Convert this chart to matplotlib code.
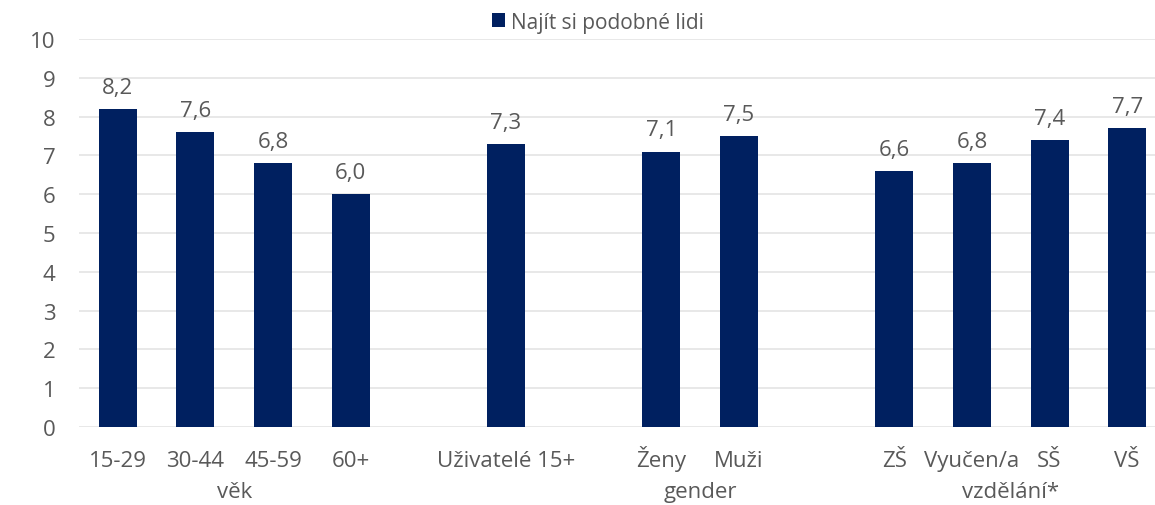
import matplotlib
matplotlib.use("Agg")
import matplotlib.pyplot as plt
import matplotlib.transforms as mtransforms

# groups of categories, separated by an empty slot on the axis
groups = ["věk", "", "gender", "vzdělání*"]
group_categories = [
    ["15-29", "30-44", "45-59", "60+"],
    ["Uživatelé 15+"],
    ["Ženy", "Muži"],
    ["ZŠ", "Vyučen/a", "SŠ", "VŠ"],
]
group_values = [
    [8.2, 7.6, 6.8, 6.0],
    [7.3],
    [7.1, 7.5],
    [6.6, 6.8, 7.4, 7.7],
]
series_name = "Najít si podobné lidi"
y_ticks = list(range(0, 11))

NAVY = "#002060"
GREY = "#595959"
GRID = "#e4e4e4"

plt.rcParams["font.family"] = ["Open Sans", "DejaVu Sans"]

fig = plt.figure(figsize=(11.55, 5.06), dpi=100)
# the reference is cropped on the right, so the axes run past the figure edge
ax = fig.add_axes([79 / 1155, 78 / 506, 1087 / 1155, 388 / 506])

positions, labels, values, centers = [], [], [], []
slot = 0
for cats, vals in zip(group_categories, group_values):
    start = slot
    for c, v in zip(cats, vals):
        positions.append(slot)
        labels.append(c)
        values.append(v)
        slot += 1
    centers.append((start + slot - 1) / 2)
    slot += 1  # gap between groups

bars = ax.bar(positions, values, width=0.49, color=NAVY, zorder=3)
ax.bar_label(bars, labels=[f"{v:.1f}".replace(".", ",") for v in values],
             padding=8, fontsize=16, color=GREY)

ax.set_xlim(-0.5, slot - 1.5)
ax.set_ylim(0, 10)
ax.set_yticks(y_ticks)
ax.set_xticks(positions)
ax.set_xticklabels(labels)
for lbl in ax.get_xticklabels():
    lbl.set_va("baseline")
ax.tick_params(axis="x", length=0, pad=28, labelsize=16, labelcolor=GREY)
ax.tick_params(axis="y", length=0, pad=17, labelsize=16, labelcolor=GREY)
ax.grid(axis="y", color=GRID, linewidth=1.2, zorder=0)
for side in ["top", "right", "left", "bottom"]:
    ax.spines[side].set_visible(False)

trans = mtransforms.blended_transform_factory(ax.transData, fig.transFigure)
for name, cx in zip(groups, centers):
    if name:
        ax.text(cx, 8 / 506, name, transform=trans, ha="center", va="baseline",
                fontsize=16, color=GREY)

leg = fig.legend([bars[0]], [series_name], loc="center",
                 bbox_to_anchor=(598 / 1155, 1 - 23 / 506), frameon=False,
                 fontsize=15, handlelength=0.65, handleheight=0.65,
                 handletextpad=0.3, labelcolor=GREY)

fig.savefig("out.png", dpi=100)
